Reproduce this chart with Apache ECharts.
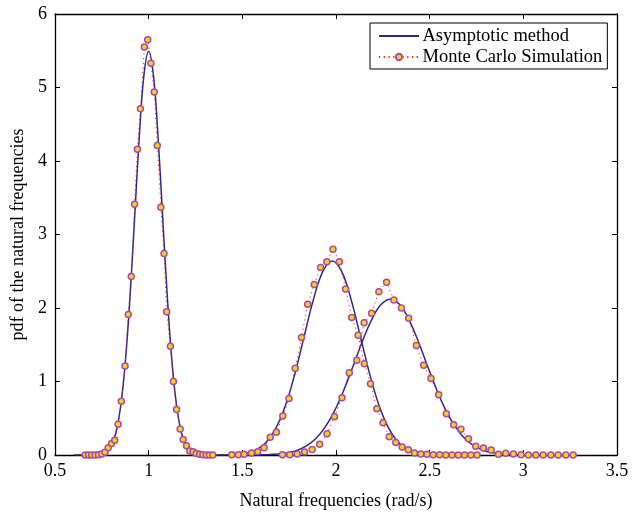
<!DOCTYPE html>
<html>
<head>
<meta charset="utf-8">
<script src="https://cdn.jsdelivr.net/npm/echarts@6/dist/echarts.min.js"></script>
<style>
html,body{margin:0;padding:0;background:#fff;}
#chart{width:634px;height:515px;}
</style>
</head>
<body>
<div id="chart"></div>
<script>
// ---- Data ----
const xTicks = [0.5, 1, 1.5, 2, 2.5, 3, 3.5];
const yTicks = [0, 1, 2, 3, 4, 5, 6];

// Asymptotic method curves
const asym1X = [0.600,0.625,0.650,0.675,0.700,0.725,0.750,0.775,0.800,0.825,0.850,0.875,0.900,0.925,0.950,0.975,1.000,1.025,1.050,1.075,1.100,1.125,1.150,1.175,1.200,1.225,1.250,1.275,1.300,1.325,1.350,1.375,1.400];
const asym1Y = [0,0,0,0,0.001,0.004,0.015,0.046,0.125,0.303,0.653,1.252,2.132,3.225,4.334,5.175,5.49,5.175,4.334,3.225,2.132,1.252,0.653,0.303,0.125,0.046,0.015,0.004,0.001,0,0,0,0];

const asym2X = [1.38,1.43,1.48,1.53,1.58,1.63,1.68,1.73,1.78,1.83,1.88,1.93,1.98,2.03,2.08,2.13,2.18,2.23,2.28,2.33,2.38,2.43,2.48,2.53,2.58];
const asym2Y = [0.001,0.004,0.011,0.031,0.079,0.181,0.368,0.672,1.099,1.613,2.121,2.499,2.64,2.499,2.121,1.613,1.099,0.672,0.368,0.181,0.079,0.031,0.011,0.004,0.001];

const asym3X = [1.59,1.64,1.69,1.74,1.79,1.84,1.89,1.94,1.99,2.04,2.09,2.14,2.19,2.24,2.29,2.34,2.39,2.44,2.49,2.54,2.59,2.64,2.69,2.74,2.79,2.84,2.89,2.94,2.99];
const asym3Y = [0.002,0.005,0.013,0.029,0.061,0.120,0.218,0.372,0.590,0.873,1.201,1.540,1.839,2.046,2.12,2.046,1.839,1.540,1.201,0.873,0.590,0.372,0.218,0.120,0.061,0.029,0.013,0.005,0.002];

// Monte Carlo simulation points
const mc1X = [0.661,0.679,0.696,0.714,0.732,0.749,0.767,0.784,0.802,0.819,0.837,0.854,0.874,0.891,0.907,0.925,0.940,0.956,0.977,0.995,1.012,1.030,1.046,1.065,1.082,1.096,1.116,1.132,1.149,1.168,1.184,1.202,1.219,1.237,1.254,1.272,1.289,1.307,1.324,1.342];
const mc1Y = [0,0,0,0,0.005,0.013,0.036,0.10,0.157,0.20,0.42,0.73,1.21,1.91,2.43,3.41,4.16,4.71,5.55,5.65,5.33,4.94,4.21,3.37,2.74,1.95,1.48,1.00,0.62,0.355,0.21,0.126,0.054,0.045,0.02,0.01,0.005,0,0,0];

const mc2X = [1.444,1.479,1.509,1.549,1.582,1.616,1.649,1.682,1.716,1.749,1.782,1.816,1.849,1.884,1.918,1.951,1.984,2.018,2.051,2.084,2.118,2.151,2.184,2.218,2.251,2.284,2.319,2.353,2.386,2.419,2.453,2.486,2.519,2.553,2.586,2.620,2.653,2.686,2.720,2.753];
const mc2Y = [0.005,0.005,0.01,0.027,0.045,0.10,0.24,0.31,0.53,0.77,1.18,1.60,2.05,2.32,2.55,2.63,2.80,2.63,2.26,1.87,1.63,1.24,0.97,0.63,0.44,0.25,0.17,0.11,0.07,0.027,0.013,0.01,0.005,0.003,0,0,0,0,0,0];

const mc3X = [1.714,1.753,1.793,1.832,1.873,1.913,1.952,1.992,2.032,2.071,2.111,2.150,2.190,2.229,2.270,2.309,2.349,2.388,2.429,2.468,2.507,2.548,2.589,2.628,2.667,2.707,2.746,2.787,2.828,2.867,2.906,2.947,2.988,3.027,3.067,3.106,3.147,3.186,3.227,3.266];
const mc3Y = [0.005,0.005,0.015,0.04,0.075,0.145,0.29,0.52,0.78,1.12,1.29,1.80,1.93,2.22,2.35,2.11,2.00,1.86,1.49,1.22,1.04,0.82,0.56,0.41,0.35,0.22,0.12,0.095,0.068,0.01,0.023,0.014,0.005,0,0,0,0,0,0,0];

const seriesNames = ['Asymptotic method', 'Monte Carlo Simulation'];
const xName = 'Natural frequencies (rad/s)';
const yName = 'pdf of the natural frequencies';

// ---- Build chart ----
const FONT = '"Liberation Serif", "Times New Roman", serif';
const FS = 18;
const zip = (xs, ys) => xs.map((x, i) => [x, ys[i]]);
const BLUE = '#2a2a8c';
const RED = '#ff1a1a';
const FILL = '#ffd400';
const RING = '#a64ab8';

function asymSeries(xs, ys) {
  return {
    name: seriesNames[0], type: 'line', data: zip(xs, ys),
    smooth: 0.4, showSymbol: false, symbol: 'none',
    lineStyle: { color: BLUE, width: 1.5 }, itemStyle: { color: BLUE },
    z: 2, animation: false
  };
}
function mcSeries(xs, ys) {
  return {
    name: seriesNames[1], type: 'line', data: zip(xs, ys),
    symbol: 'circle', symbolSize: 6, showSymbol: true,
    lineStyle: { color: RED, width: 1, type: [1.2, 3.5] },
    itemStyle: { color: FILL, borderColor: RING, borderWidth: 1.5 },
    z: 3, animation: false
  };
}

const axisLineStyle = { color: '#000', width: 1.3 };
const tickStyle = { show: true, inside: true, length: 5, lineStyle: { color: '#000', width: 1 } };
const labelStyle = { fontFamily: FONT, fontSize: FS, color: '#000' };

const chart = echarts.init(document.getElementById('chart'), null, { renderer: 'canvas' });
chart.setOption({
  backgroundColor: '#fff',
  animation: false,
  grid: { left: 55, right: 17, top: 14, bottom: 55, containLabel: false },
  legend: {
    data: [
      { name: seriesNames[0], itemStyle: { color: 'rgba(0,0,0,0)', borderWidth: 0, opacity: 0 } },
      { name: seriesNames[1] }
    ],
    orient: 'vertical',
    left: 370, top: 23,
    backgroundColor: '#fff',
    borderColor: '#000', borderWidth: 1, borderRadius: 0,
    padding: [3, 5, 2, 8],
    itemGap: 1,
    itemWidth: 40, itemHeight: 8,
    textStyle: { fontFamily: FONT, fontSize: 18.5, color: '#000', lineHeight: 20, padding: [0, 0, 0, -1.5] }
  },
  xAxis: [
    {
      type: 'value', min: xTicks[0], max: xTicks[xTicks.length - 1], interval: 0.5,
      position: 'bottom',
      name: xName, nameLocation: 'middle', nameGap: 37,
      nameTextStyle: labelStyle,
      axisLine: { show: true, onZero: false, lineStyle: axisLineStyle },
      axisTick: tickStyle,
      axisLabel: Object.assign({ margin: 7 }, labelStyle),
      splitLine: { show: false }
    },
    {
      type: 'value', min: xTicks[0], max: xTicks[xTicks.length - 1], interval: 0.5,
      position: 'top',
      axisLine: { show: true, onZero: false, lineStyle: axisLineStyle },
      axisTick: tickStyle,
      axisLabel: { show: false },
      splitLine: { show: false }
    }
  ],
  yAxis: [
    {
      type: 'value', min: yTicks[0], max: yTicks[yTicks.length - 1], interval: 1,
      position: 'left',
      name: yName, nameLocation: 'middle', nameGap: 23,
      nameTextStyle: labelStyle,
      axisLine: { show: true, onZero: false, lineStyle: axisLineStyle },
      axisTick: tickStyle,
      axisLabel: Object.assign({ margin: 8 }, labelStyle),
      splitLine: { show: false }
    },
    {
      type: 'value', min: yTicks[0], max: yTicks[yTicks.length - 1], interval: 1,
      position: 'right',
      axisLine: { show: true, onZero: false, lineStyle: axisLineStyle },
      axisTick: tickStyle,
      axisLabel: { show: false },
      splitLine: { show: false }
    }
  ],
  series: [
    asymSeries(asym1X, asym1Y),
    asymSeries(asym2X, asym2Y),
    asymSeries(asym3X, asym3Y),
    mcSeries(mc1X, mc1Y),
    mcSeries(mc2X, mc2Y),
    mcSeries(mc3X, mc3Y)
  ]
});
</script>
</body>
</html>
